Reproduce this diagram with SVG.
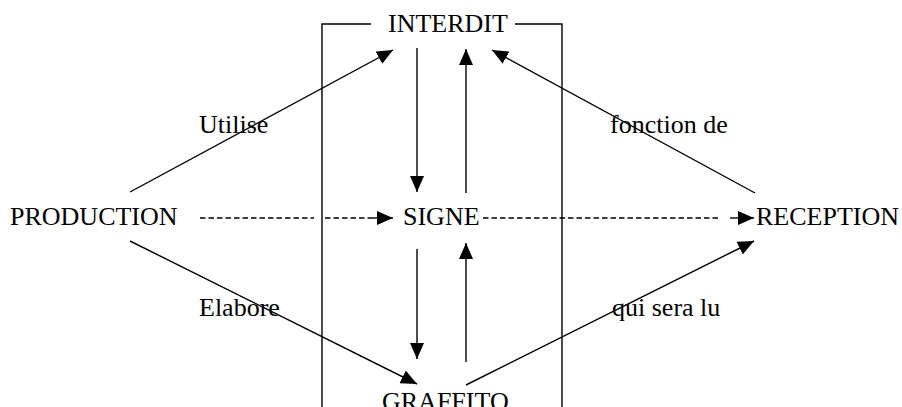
<svg xmlns="http://www.w3.org/2000/svg" width="902" height="407" viewBox="0 0 902 407">
<style>
text{font-family:"Liberation Serif","Times New Roman",serif;font-size:26px;fill:#000}
.ln{stroke:#000;stroke-width:1.4;fill:none}
.ar{marker-end:url(#ah)}
.dash{stroke-dasharray:5.5 3}
</style>
<defs>
<marker id="ah" markerUnits="userSpaceOnUse" markerWidth="16" markerHeight="14" refX="16" refY="7" orient="auto" viewBox="0 0 16 14">
<path d="M0,0 L16,7 L0,14 z" fill="#000"/>
</marker>
</defs>
<g id="frame">
<path class="ln" d="M371,24 H322 V407"/>
<path class="ln" d="M515,24 H562 V407"/>
</g>
<g id="connectors">
<line class="ln ar" x1="130" y1="192" x2="393" y2="50"/>
<line class="ln ar" x1="755" y1="193" x2="492" y2="50"/>
<line class="ln ar" x1="130" y1="241" x2="417" y2="384"/>
<line class="ln ar" x1="466" y1="385" x2="754" y2="241"/>
<line class="ln ar" x1="417" y1="48" x2="417" y2="192"/>
<line class="ln ar" x1="466" y1="193" x2="466" y2="49"/>
<line class="ln ar" x1="417" y1="249" x2="417" y2="359"/>
<line class="ln ar" x1="466" y1="362" x2="466" y2="243"/>
<line class="ln dash" x1="200" y1="218" x2="314" y2="218"/>
<line class="ln dash" x1="325" y1="218" x2="372" y2="218"/>
<line class="ln ar" x1="372" y1="218" x2="393" y2="218"/>
<line class="ln dash" x1="483" y1="218" x2="721" y2="218"/>
<line class="ln ar" x1="730" y1="218" x2="754" y2="218"/>
</g>
<g id="node-interdit"><text x="388" y="32">INTERDIT</text></g>
<g id="node-production"><text x="10" y="225">PRODUCTION</text></g>
<g id="node-signe"><text x="403" y="225">SIGNE</text></g>
<g id="node-reception"><text x="756" y="225">RECEPTION</text></g>
<g id="node-graffito"><text x="382" y="410">GRAFFITO</text></g>
<g id="labels">
<text x="199" y="133">Utilise</text>
<text x="610" y="133">fonction de</text>
<text x="199" y="316">Elabore</text>
<text x="612" y="316">qui sera lu</text>
</g>
</svg>
